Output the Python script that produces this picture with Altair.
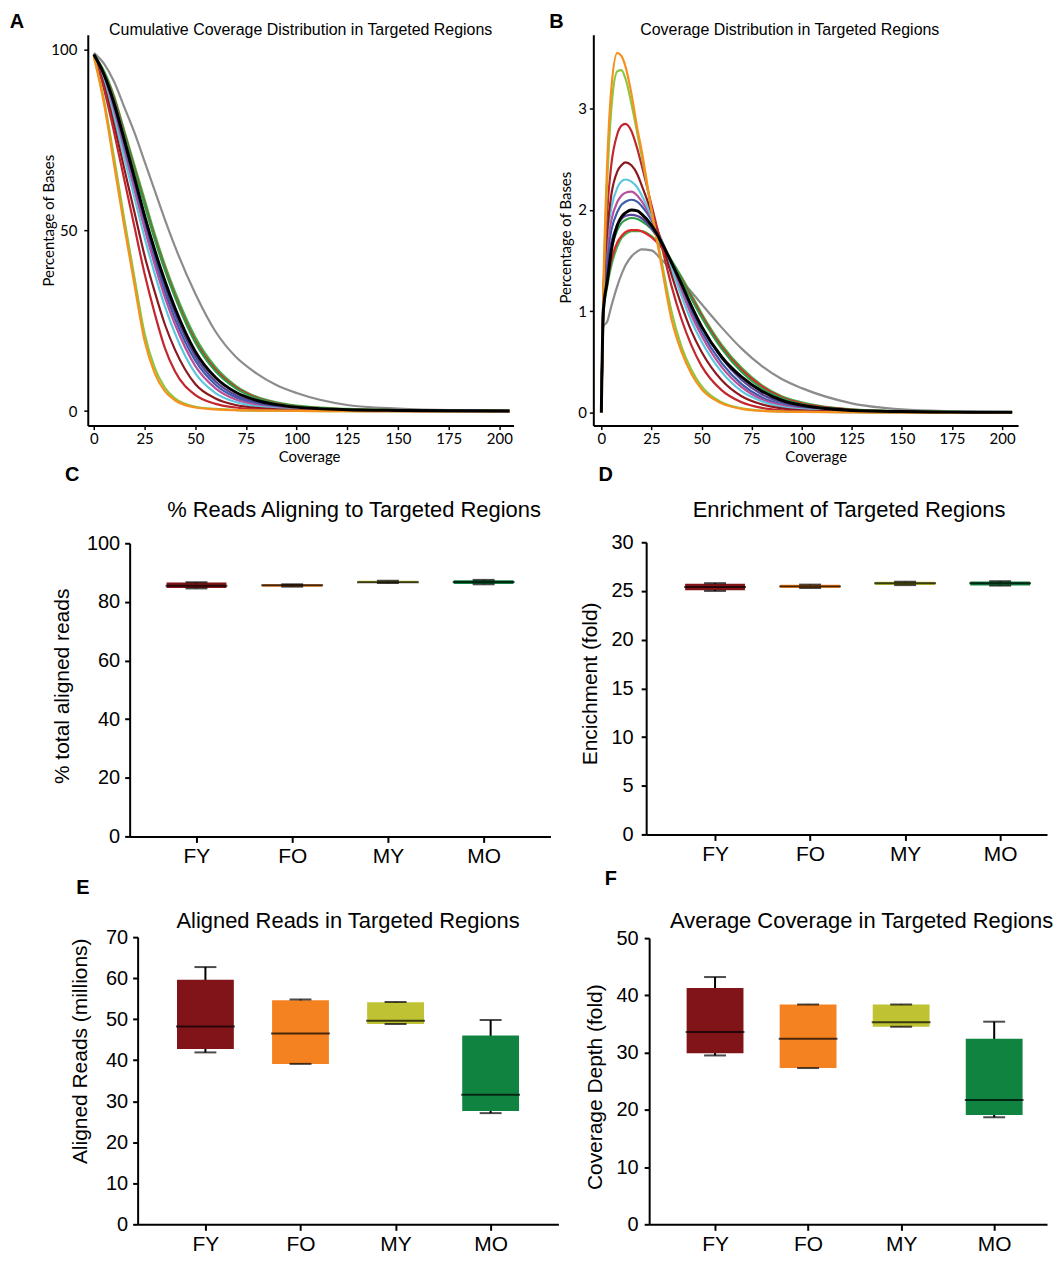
import altair as alt
import pandas as pd

# ---------------- data: coverage curves (panels A and B) ----------------
SERIES = ["gray", "green2", "red2", "green1", "purple", "blue", "magenta",
          "cyan", "darkred", "red", "yellowgreen", "orange", "black"]
COLORS = ["#8c8c8c", "#3ab54a", "#e3242b", "#2e9d47", "#58449a", "#3d5ca9",
          "#b8509e", "#5ec6de", "#8a1a1f", "#c2262e", "#8dc63f", "#f7901e", "#000000"]

COV_A = [0, 5, 10, 15, 20, 25, 30, 35, 40, 50, 60, 70, 80, 90, 100, 125, 150, 175, 205]
A_GRAY = [99, 96, 91, 84, 77, 69, 61, 53, 45.5, 32.5, 22, 15, 10.5, 7.2, 5, 1.7, 0.7, 0.3, 0.2]
A_GREEN2 = [98.5, 94, 87, 77.5, 68, 58.5, 49, 40.5, 33, 20.5, 12.2, 7, 4, 2.4, 1.5, 0.6, 0.3, 0.15, 0.05]
A_RED2 = [98.5, 93.5, 86.5, 77, 67, 57.5, 48, 39.5, 32, 19.5, 11.5, 6.6, 3.8, 2.2, 1.3, 0.5, 0.25, 0.1, 0.05]
A_GREEN1 = [98.5, 93.5, 86, 76.5, 66.5, 57, 47.5, 39, 31.5, 19, 11, 6.3, 3.6, 2.1, 1.3, 0.5, 0.25, 0.1, 0.05]
A_PURPLE = [98.5, 92.5, 84, 74, 63.5, 53.5, 43.5, 34.5, 27, 15.2, 8.2, 4.4, 2.4, 1.3, 0.8, 0.25, 0.1, 0.05, 0]
A_BLUE = [98.5, 92, 83, 72.5, 62, 52, 42, 33, 25.5, 14, 7.3, 3.8, 2, 1.1, 0.6, 0.2, 0.1, 0.05, 0]
A_MAGENTA = [98.5, 91.5, 82, 71.5, 61, 50.5, 40.5, 31.5, 24, 12.5, 6.3, 3.2, 1.7, 0.9, 0.5, 0.15, 0.05, 0, 0]
A_CYAN = [98.5, 91, 81, 70, 59, 48, 38, 29, 21.5, 10.5, 5, 2.5, 1.3, 0.7, 0.4, 0.1, 0.05, 0, 0]
A_DARKRED = [98.5, 90, 79, 67, 55, 43, 33, 24, 17, 7.5, 3.5, 1.7, 0.9, 0.5, 0.3, 0.1, 0.05, 0, 0]
A_RED = [98.5, 89, 77, 64, 51, 38, 27, 17.5, 11, 4.5, 2, 1, 0.5, 0.3, 0.2, 0.05, 0, 0, 0]
A_YELLOWGREEN = [98, 86, 70, 53, 37, 21.5, 12, 6.5, 3.5, 1.2, 0.6, 0.3, 0.15, 0.1, 0.05, 0, 0, 0, 0]
A_ORANGE = [98, 85, 68, 51, 35, 19.5, 10.5, 5.5, 3, 1, 0.5, 0.25, 0.15, 0.1, 0.05, 0, 0, 0, 0]
A_BLACK = [98.5, 93, 85, 75, 64.5, 54, 44.5, 36, 28.5, 16.5, 9.3, 5.2, 3, 1.8, 1.1, 0.4, 0.2, 0.1, 0.05]

COV_B = [0, 1, 3, 5, 8, 10, 12, 15, 18, 20, 25, 30, 35, 40, 45, 50, 60, 70, 80, 90, 100, 125, 150, 175, 205]
B_GRAY = [0, 0.85, 0.9, 1.05, 1.25, 1.36, 1.45, 1.54, 1.59, 1.61, 1.6, 1.51, 1.41, 1.3, 1.19, 1.07, 0.84, 0.63, 0.46, 0.33, 0.24, 0.09, 0.03, 0.012, 0.005]
B_GREEN2 = [0, 0.95, 1.25, 1.45, 1.64, 1.72, 1.76, 1.79, 1.79, 1.79, 1.74, 1.64, 1.5, 1.34, 1.16, 0.98, 0.67, 0.44, 0.27, 0.16, 0.1, 0.03, 0.012, 0.005, 0.002]
B_RED2 = [0, 1.0, 1.3, 1.5, 1.68, 1.74, 1.78, 1.8, 1.8, 1.79, 1.73, 1.63, 1.49, 1.32, 1.14, 0.96, 0.65, 0.42, 0.26, 0.15, 0.09, 0.028, 0.01, 0.004, 0.002]
B_GREEN1 = [0, 1.0, 1.4, 1.62, 1.8, 1.87, 1.9, 1.92, 1.91, 1.89, 1.81, 1.67, 1.5, 1.31, 1.12, 0.94, 0.63, 0.4, 0.24, 0.14, 0.08, 0.025, 0.01, 0.004, 0.002]
B_PURPLE = [0, 1.05, 1.45, 1.68, 1.85, 1.91, 1.94, 1.95, 1.94, 1.92, 1.82, 1.66, 1.46, 1.25, 1.04, 0.85, 0.54, 0.32, 0.18, 0.1, 0.05, 0.015, 0.005, 0.002, 0]
B_BLUE = [0, 1.1, 1.55, 1.8, 1.98, 2.05, 2.08, 2.1, 2.08, 2.04, 1.9, 1.7, 1.47, 1.23, 1.0, 0.8, 0.49, 0.28, 0.15, 0.08, 0.04, 0.012, 0.004, 0.001, 0]
B_MAGENTA = [0, 1.15, 1.65, 1.9, 2.08, 2.14, 2.17, 2.18, 2.14, 2.09, 1.92, 1.7, 1.45, 1.2, 0.96, 0.76, 0.45, 0.25, 0.13, 0.07, 0.035, 0.01, 0.004, 0.001, 0]
B_CYAN = [0, 1.2, 1.75, 2.02, 2.22, 2.28, 2.3, 2.28, 2.22, 2.15, 1.94, 1.7, 1.42, 1.15, 0.9, 0.7, 0.4, 0.21, 0.11, 0.055, 0.03, 0.008, 0.003, 0.001, 0]
B_DARKRED = [0, 1.1, 1.8, 2.15, 2.38, 2.44, 2.47, 2.44, 2.35, 2.25, 1.98, 1.68, 1.36, 1.06, 0.8, 0.6, 0.32, 0.16, 0.08, 0.04, 0.02, 0.006, 0.002, 0.001, 0]
B_RED = [0, 1.1, 2.0, 2.45, 2.75, 2.83, 2.85, 2.78, 2.6, 2.45, 2.05, 1.65, 1.25, 0.92, 0.66, 0.46, 0.22, 0.1, 0.045, 0.02, 0.01, 0.003, 0.001, 0, 0]
B_YELLOWGREEN = [0, 1.1, 2.3, 3.0, 3.37, 3.38, 3.3, 3.05, 2.75, 2.55, 2.0, 1.5, 1.0, 0.65, 0.42, 0.26, 0.1, 0.04, 0.018, 0.009, 0.005, 0.002, 0, 0, 0]
B_ORANGE = [0, 1.2, 2.5, 3.2, 3.55, 3.52, 3.42, 3.15, 2.8, 2.6, 2.0, 1.45, 0.92, 0.6, 0.38, 0.23, 0.09, 0.035, 0.015, 0.008, 0.005, 0.002, 0, 0, 0]
B_BLACK = [0, 1.0, 1.3, 1.6, 1.85, 1.93, 1.97, 2.0, 1.99, 1.96, 1.85, 1.68, 1.48, 1.27, 1.05, 0.85, 0.55, 0.35, 0.21, 0.12, 0.07, 0.02, 0.008, 0.003, 0.001]

A_ALL = [A_GRAY, A_GREEN2, A_RED2, A_GREEN1, A_PURPLE, A_BLUE, A_MAGENTA,
         A_CYAN, A_DARKRED, A_RED, A_YELLOWGREEN, A_ORANGE, A_BLACK]
B_ALL = [B_GRAY, B_GREEN2, B_RED2, B_GREEN1, B_PURPLE, B_BLUE, B_MAGENTA,
         B_CYAN, B_DARKRED, B_RED, B_YELLOWGREEN, B_ORANGE, B_BLACK]

COV_TICKS = [0, 25, 50, 75, 100, 125, 150, 175, 200]

# ---------------- data: box plots (panels C-F) ----------------
GROUPS = ["FY", "FO", "MY", "MO"]
BOX_COLORS = ["#801418", "#f58220", "#bfc232", "#108341"]

C_LO = [84.6, 85.2, 86.4, 86.0]
C_Q1 = [84.7, 85.2, 86.4, 86.1]
C_MED = [85.5, 85.7, 86.7, 86.8]
C_Q3 = [86.6, 86.0, 87.2, 87.4]
C_HI = [86.7, 86.0, 87.2, 87.5]

D_LO = [25.0, 25.3, 25.6, 25.55]
D_Q1 = [25.06, 25.3, 25.6, 25.57]
D_MED = [25.4, 25.47, 25.8, 25.8]
D_Q3 = [25.74, 25.64, 25.95, 25.98]
D_HI = [25.8, 25.65, 25.95, 26.0]

E_LO = [41.9, 39.1, 48.8, 27.1]
E_Q1 = [42.7, 39.1, 48.8, 27.6]
E_MED = [48.2, 46.5, 49.6, 31.6]
E_Q3 = [59.6, 54.6, 54.1, 46.0]
E_HI = [62.7, 54.8, 54.2, 49.8]

F_LO = [29.5, 27.3, 34.5, 18.7]
F_Q1 = [29.9, 27.3, 34.5, 19.1]
F_MED = [33.6, 32.4, 35.3, 21.7]
F_Q3 = [41.3, 38.4, 38.4, 32.4]
F_HI = [43.2, 38.4, 38.4, 35.4]

SANS = "Liberation Sans"
LINE_FONT = "Lato"


def text_layer(txt, x, y, size, weight="normal", font=SANS):
    return alt.Chart(pd.DataFrame({"t": [txt]})).mark_text(
        font=font, fontSize=size, fontWeight=weight, color="black",
        align="center", baseline="middle"
    ).encode(text="t:N", x=alt.value(x), y=alt.value(y))


def frame_layer(x0, x1, y0, y1):
    # invisible rectangle that fixes the panel's layout bounds
    return alt.Chart(pd.DataFrame({"d": [0]})).mark_rect(
        fill="white", opacity=0
    ).encode(x=alt.value(x0), x2=alt.value(x1), y=alt.value(y0), y2=alt.value(y1))


def spacer():
    return frame_layer(0, 1, 0, 1).properties(width=1, height=1)


def line_panel(cov, all_vals, xdom, ydom, yticks, w, h, letter, lxy, title, txy,
               frame, y_label_pad, y_title_xy, x_title_xy):
    rows = []
    for name, col, vals in zip(SERIES, COLORS, all_vals):
        for c, v in zip(cov, vals):
            rows.append({"s": name, "col": col, "c": c, "v": v})
    df = pd.DataFrame(rows)
    x = alt.X("c:Q", scale=alt.Scale(domain=xdom, nice=False, zero=False),
              axis=alt.Axis(values=COV_TICKS, title="Coverage", grid=False,
                            labelFont=LINE_FONT, labelFontSize=15, titleFont=LINE_FONT,
                            titleFontSize=15, titleFontWeight="normal", tickSize=4,
                            labelPadding=2, titleX=x_title_xy[0], titleY=x_title_xy[1],
                            titleBaseline="middle", titleAlign="center",
                            domainColor="black", domainWidth=2, tickColor="black",
                            tickWidth=1.5, labelColor="black", titleColor="black"))
    y = alt.Y("v:Q", scale=alt.Scale(domain=ydom, nice=False, zero=False),
              axis=alt.Axis(values=yticks, title="Percentage of Bases", grid=False,
                            labelFont=LINE_FONT, labelFontSize=15, titleFont=LINE_FONT,
                            titleFontSize=15, titleFontWeight="normal", tickSize=4,
                            labelPadding=y_label_pad, titleX=y_title_xy[0],
                            titleY=y_title_xy[1], titleBaseline="middle",
                            titleAlign="center", titleAngle=270,
                            domainColor="black", domainWidth=2, tickColor="black",
                            tickWidth=1.5, labelColor="black", titleColor="black"))
    others = alt.Chart(df[df.s != "black"]).mark_line(
        strokeWidth=2.2, interpolate="monotone", clip=True
    ).encode(x=x, y=y, color=alt.Color("col:N", scale=None, legend=None))
    black = alt.Chart(df[df.s == "black"]).mark_line(
        strokeWidth=3, interpolate="monotone", color="black", clip=True
    ).encode(x=x, y=y)
    return alt.layer(
        frame_layer(*frame), others, black,
        text_layer(letter, lxy[0], lxy[1], 20, "bold", SANS),
        text_layer(title, txy[0], txy[1], 16, "normal", SANS),
    ).properties(width=w, height=h)


def box_panel(lo, q1, med, q3, hi, ymax, ystep, w, h, pad, align, box_w, ytitle,
              letter, lxy, title, txy, frame, y_label_pad, y_title_xy):
    df = pd.DataFrame({"g": GROUPS, "col": BOX_COLORS, "lo": lo, "q1": q1,
                       "med": med, "q3": q3, "hi": hi})
    x = alt.X("g:N", sort=GROUPS, scale=alt.Scale(type="point", padding=pad, align=align),
              axis=alt.Axis(title=None, labelAngle=0, labelFont=SANS, labelFontSize=21,
                            labelColor="black", tickSize=6, tickWidth=2, tickColor="black",
                            domainColor="black", domainWidth=2, labelPadding=3))
    yaxis = alt.Axis(values=list(range(0, ymax + 1, ystep)), title=ytitle, grid=False,
                     labelFont=SANS, labelFontSize=20, labelColor="black", titleFont=SANS,
                     titleFontSize=21, titleFontWeight="normal", titleColor="black",
                     tickSize=5, tickWidth=2, tickColor="black", domainColor="black",
                     domainWidth=2, labelPadding=y_label_pad, titleX=y_title_xy[0],
                     titleY=y_title_xy[1], titleBaseline="middle", titleAlign="center",
                     titleAngle=270)
    yscale = alt.Scale(domain=[0, ymax], nice=False, zero=True)
    base = alt.Chart(df)
    whisk = base.mark_rule(color="black", strokeWidth=2).encode(
        x=x, y=alt.Y("lo:Q", scale=yscale, axis=yaxis), y2="hi:Q")
    box = base.mark_bar(size=box_w).encode(
        x=x, y=alt.Y("q1:Q", scale=yscale, axis=yaxis), y2="q3:Q",
        color=alt.Color("col:N", scale=None, legend=None))
    median = base.mark_tick(color="black", thickness=2, size=box_w + 2).encode(
        x=x, y=alt.Y("med:Q", scale=yscale, axis=yaxis))
    cap_hi = base.mark_tick(color="black", thickness=2, size=22).encode(
        x=x, y=alt.Y("hi:Q", scale=yscale, axis=yaxis))
    cap_lo = base.mark_tick(color="black", thickness=2, size=22).encode(
        x=x, y=alt.Y("lo:Q", scale=yscale, axis=yaxis))
    return alt.layer(
        frame_layer(*frame), whisk, box, median, cap_hi, cap_lo,
        text_layer(letter, lxy[0], lxy[1], 20, "bold", SANS),
        text_layer(title, txy[0], txy[1], 22, "normal", SANS),
    ).properties(width=w, height=h)


panel_a = line_panel(COV_A, A_ALL, [-3, 207], [-4, 104], [0, 50, 100], 427, 392,
                     "A", (-71, -13), "Cumulative Coverage Distribution in Targeted Regions",
                     (213.5, -5), (-79, 447, -25, 431), 7, (-39.5, 186), (222, 31))
panel_b = line_panel(COV_B, B_ALL, [-4, 208], [-0.13, 3.73], [0, 1, 2, 3], 426, 392,
                     "B", (-37, -13), "Coverage Distribution in Targeted Regions",
                     (197, -5), (-60, 459, -25, 431), 3, (-27.5, 203), (223, 31))

panel_c = box_panel(C_LO, C_Q1, C_MED, C_Q3, C_HI, 100, 20, 422, 294, 0.698, 0.5, 60,
                    "% total aligned reads", "C", (-57.5, -68),
                    "% Reads Aligning to Targeted Regions", (225, -33),
                    (-121, 440, -79, 325), 5, (-67.5, 143))
panel_d = box_panel(D_LO, D_Q1, D_MED, D_Q3, D_HI, 30, 5, 402, 293, 0.609, 0.595, 60,
                    "Encichment (fold)", "D", (-40.5, -67),
                    "Enrichment of Targeted Regions", (203.5, -32),
                    (-71, 406, -78, 326), 8, (-55.5, 141.5))
panel_e = box_panel(E_LO, E_Q1, E_MED, E_Q3, E_HI, 70, 10, 422, 288, 0.713, 0.5, 57,
                    "Aligned Reads (millions)", "E", (-55, -49),
                    "Aligned Reads in Targeted Regions", (211, -16),
                    (-129, 437, -69, 318), 5, (-57, 114))
panel_f = box_panel(F_LO, F_Q1, F_MED, F_Q3, F_HI, 50, 10, 399, 287, 0.638, 0.555, 57,
                    "Coverage Depth (fold)", "F", (-38.5, -59),
                    "Average Coverage in Targeted Regions", (213, -17),
                    (-66, 403, -71, 317), 6, (-53.5, 149))

chart = alt.concat(
    spacer(), panel_a, panel_b,
    spacer(), panel_c, panel_d,
    spacer(), panel_e, panel_f,
    columns=3, spacing=0, align="none", bounds="full",
).properties(
    padding=0,
    background="white",
).configure_view(strokeWidth=0, stroke="transparent")

chart.save("out.html", embed_options={"renderer": "svg", "actions": False})
